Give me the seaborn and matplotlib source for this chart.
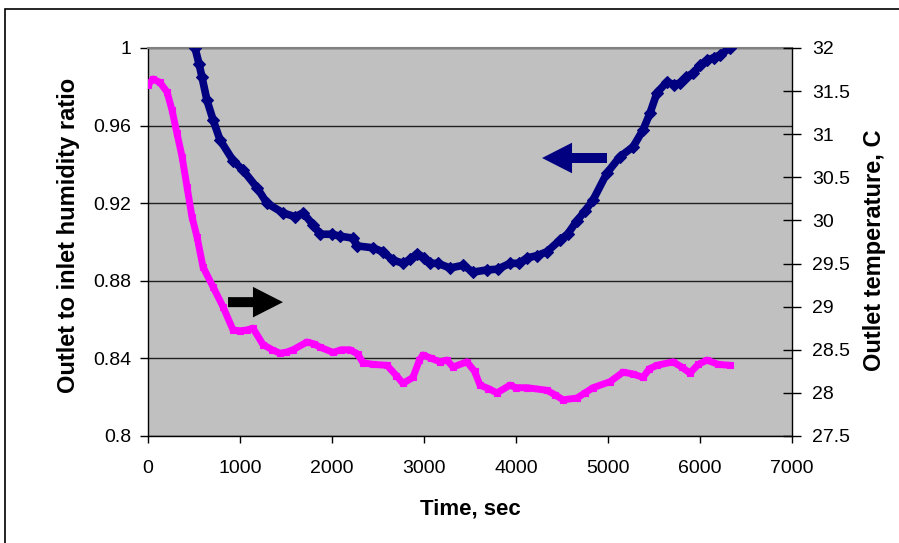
import matplotlib
matplotlib.use("Agg")
import matplotlib.pyplot as plt
import seaborn as sns
import pandas as pd
from matplotlib.patches import Rectangle

# ---- data ----
ratio_time = [511, 554, 587, 641, 707, 783, 924, 1033, 1185, 1293, 1467, 1600, 1685,
              1793, 1870, 2000, 2087, 2228, 2272, 2446, 2550, 2663, 2772, 2850, 2924,
              3000, 3065, 3150, 3283, 3424, 3533, 3685, 3800, 3935, 4030, 4120, 4230,
              4337, 4478, 4560, 4663, 4750, 4837, 4989, 5130, 5272, 5380, 5457, 5533,
              5641, 5720, 5783, 5850, 5924, 6000, 6076, 6150, 6217, 6326]
ratio = [1.000, 0.992, 0.985, 0.973, 0.963, 0.9526, 0.942, 0.937, 0.928, 0.920, 0.915,
         0.913, 0.915, 0.909, 0.904, 0.904, 0.903, 0.902, 0.898, 0.897, 0.895, 0.8907,
         0.889, 0.891, 0.894, 0.892, 0.889, 0.889, 0.8866, 0.888, 0.8845, 0.8856,
         0.886, 0.889, 0.889, 0.8918, 0.893, 0.895, 0.901, 0.904, 0.911, 0.916, 0.9216,
         0.9356, 0.944, 0.949, 0.9577, 0.9665, 0.977, 0.9825, 0.981, 0.982, 0.985,
         0.987, 0.991, 0.9938, 0.995, 0.9964, 1.000]

temp_time = [0, 54, 130, 207, 261, 315, 370, 424, 478, 533, 598, 707, 815, 924, 1000,
             1076, 1141, 1250, 1350, 1435, 1500, 1576, 1728, 1800, 1870, 2011, 2100,
             2196, 2280, 2337, 2450, 2598, 2700, 2772, 2880, 2950, 2989, 3080, 3174,
             3250, 3315, 3467, 3550, 3609, 3700, 3793, 3935, 4000, 4120, 4337, 4420,
             4511, 4663, 4750, 4837, 5022, 5163, 5270, 5380, 5450, 5533, 5707, 5800,
             5891, 5980, 6076, 6200, 6326]
temp = [31.57, 31.64, 31.60, 31.49, 31.28, 31.01, 30.74, 30.39, 30.04, 29.81, 29.46,
        29.23, 29.00, 28.73, 28.72, 28.73, 28.75, 28.56, 28.50, 28.46, 28.47, 28.50,
        28.59, 28.57, 28.53, 28.47, 28.50, 28.50, 28.45, 28.35, 28.33, 28.32, 28.20,
        28.11, 28.18, 28.38, 28.44, 28.40, 28.36, 28.38, 28.30, 28.36, 28.25, 28.09,
        28.05, 28.00, 28.09, 28.06, 28.06, 28.03, 27.98, 27.92, 27.94, 28.00, 28.06,
        28.13, 28.24, 28.22, 28.18, 28.28, 28.32, 28.36, 28.30, 28.23, 28.33, 28.38,
        28.33, 28.32]

x_ticks = [0, 1000, 2000, 3000, 4000, 5000, 6000, 7000]
x_tick_labels = ["0", "1000", "2000", "3000", "4000", "5000", "6000", "7000"]
left_ticks = [0.80, 0.84, 0.88, 0.92, 0.96, 1.00]
left_tick_labels = ["0.8", "0.84", "0.88", "0.92", "0.96", "1"]
right_ticks = [27.5, 28, 28.5, 29, 29.5, 30, 30.5, 31, 31.5, 32]
right_tick_labels = ["27.5", "28", "28.5", "29", "29.5", "30", "30.5", "31", "31.5", "32"]

x_label = "Time, sec"
left_label = "Outlet to inlet humidity ratio"
right_label = "Outlet temperature, C"

# annotation arrows (tail -> tip), in data coordinates of the left axis
temp_arrow_tail = (870, 0.869)
temp_arrow_tip = (1467, 0.869)
ratio_arrow_tail = (4989, 0.9433)
ratio_arrow_tip = (4283, 0.9433)

NAVY = "#000080"
MAGENTA = "#FF00FF"

df_ratio = pd.DataFrame({"time": ratio_time, "ratio": ratio})
df_temp = pd.DataFrame({"time": temp_time, "temp": temp})

sns.set_theme(style="white")
plt.rcParams["font.family"] = ["Liberation Sans", "DejaVu Sans"]

fig = plt.figure(figsize=(8.99, 5.43), dpi=100)
ax = fig.add_axes([148 / 899, 107 / 543, 644 / 899, 388 / 543])
ax.set_facecolor("#C0C0C0")
ax2 = ax.twinx()

sns.lineplot(data=df_ratio, x="time", y="ratio", ax=ax, color=NAVY, sort=False,
             linewidth=5.5, marker="D", markersize=6, markeredgewidth=0.8,
             markeredgecolor=NAVY, zorder=3)
sns.lineplot(data=df_temp, x="time", y="temp", ax=ax2, color=MAGENTA, sort=False,
             linewidth=5.0, marker="s", markersize=5, markeredgewidth=0.8,
             markeredgecolor=MAGENTA, zorder=3)

ax.set_xlim(0, 7000)
ax.set_ylim(0.8, 1.0)
ax2.set_ylim(27.5, 32)
ax.set_xticks(x_ticks, labels=x_tick_labels)
ax.set_yticks(left_ticks, labels=left_tick_labels)
ax2.set_yticks(right_ticks, labels=right_tick_labels)

ax.yaxis.grid(True, color="#202020", linewidth=1.0)
ax.xaxis.grid(False)
ax.set_axisbelow(True)

for s in ["left", "bottom"]:
    ax.spines[s].set_color("black")
    ax.spines[s].set_linewidth(1.0)
ax.spines["top"].set_color("#808080")
ax.spines["top"].set_linewidth(1.5)
ax.spines["right"].set_visible(False)
for s in ["left", "bottom", "top"]:
    ax2.spines[s].set_visible(False)
ax2.spines["right"].set_color("black")
ax2.spines["right"].set_linewidth(1.0)

ax.tick_params(axis="y", which="major", direction="out", length=6, width=1,
               color="black", labelsize=14, pad=6, left=True, labelcolor="black")
ax.tick_params(axis="x", which="major", direction="out", length=5, width=1,
               color="black", labelsize=14, pad=12, bottom=True, labelcolor="black")
ax2.tick_params(axis="y", which="major", direction="inout", length=13, width=1,
                color="black", labelsize=14, pad=8, right=True, labelcolor="black")

ax.set_xlabel(x_label, fontsize=16, fontweight="bold", color="black")
ax.xaxis.set_label_coords(0.5, -0.16)
ax.set_ylabel(left_label, fontsize=17, fontweight="bold", color="black", va="center")
ax.yaxis.set_label_coords(-0.124, 0.518)
ax2.set_ylabel(right_label, fontsize=17, fontweight="bold", color="black", va="center",
               rotation=90)
ax2.yaxis.set_label_coords(1.128, 0.479)

ax.annotate("", xy=temp_arrow_tip, xytext=temp_arrow_tail,
            arrowprops=dict(arrowstyle="simple,head_length=1.08,head_width=1.1,tail_width=0.36",
                            mutation_scale=20, color="black", shrinkA=0, shrinkB=0, lw=0),
            zorder=5)
ax.annotate("", xy=ratio_arrow_tip, xytext=ratio_arrow_tail,
            arrowprops=dict(arrowstyle="simple,head_length=1.08,head_width=1.1,tail_width=0.36",
                            mutation_scale=20, color=NAVY, shrinkA=0, shrinkB=0, lw=0),
            zorder=5)

fig.add_artist(Rectangle((5 / 899, -0.1), 1.2, 1.1 - 9 / 543, transform=fig.transFigure,
                         fill=False, edgecolor="black", linewidth=1.2, clip_on=False))

fig.savefig("out.png", dpi=100)
